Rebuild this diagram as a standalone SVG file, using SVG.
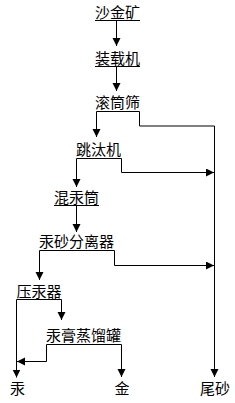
<svg xmlns="http://www.w3.org/2000/svg" width="235" height="403" viewBox="0 0 235 403">
<style>
text{font-family:"Noto Sans CJK SC","Noto Sans",sans-serif;font-size:15px;fill:#000;text-anchor:middle}
.c{fill:none;stroke:#000;stroke-width:1}
</style>
<defs>
<marker id="ah" markerUnits="userSpaceOnUse" markerWidth="10" markerHeight="10" refX="8" refY="4" orient="auto">
<path d="M0,0 L8,4 L0,8 Z" fill="#000"/>
</marker>
</defs>
<rect width="235" height="403" fill="#fff"/>
<g id="n1"><text x="117.5" y="18">沙金矿</text></g>
<g id="n2"><text x="117.5" y="64">装载机</text></g>
<g id="n3"><text x="117.5" y="108">滚筒筛</text></g>
<g id="n4"><text x="98.5" y="155">跳汰机</text></g>
<g id="n5"><text x="76.5" y="203">混汞筒</text></g>
<g id="n6"><text x="76.5" y="247">汞砂分离器</text></g>
<g id="n7"><text x="39" y="297">压汞器</text></g>
<g id="n8"><text x="83.5" y="341">汞膏蒸馏罐</text></g>
<g id="n9"><text x="17.5" y="394">汞</text></g>
<g id="n10"><text x="122" y="394">金</text></g>
<g id="n11"><text x="215" y="394">尾砂</text></g>
<g id="connectors">
<path class="c" d="M95,20.5 H140"/>
<path class="c" d="M116.5,20.5 V46" marker-end="url(#ah)"/>
<path class="c" d="M95,66.5 H140"/>
<path class="c" d="M116.5,66.5 V91" marker-end="url(#ah)"/>
<path class="c" d="M96.5,111.5 H139.5 V126 H214.5 V377" marker-end="url(#ah)"/>
<path class="c" d="M96.5,111.5 V137" marker-end="url(#ah)"/>
<path class="c" d="M76.5,158.5 H121.5 V172.5 H214" marker-end="url(#ah)"/>
<path class="c" d="M76.5,158.5 V187" marker-end="url(#ah)"/>
<path class="c" d="M54,205.5 H99"/>
<path class="c" d="M76.5,205.5 V232" marker-end="url(#ah)"/>
<path class="c" d="M39.5,250.5 H114.5 V265.5 H214" marker-end="url(#ah)"/>
<path class="c" d="M39.5,250.5 V280" marker-end="url(#ah)"/>
<path class="c" d="M16.5,299.5 H61.5"/>
<path class="c" d="M16.5,299.5 V377.5" marker-end="url(#ah)"/>
<path class="c" d="M61.5,299.5 V320" marker-end="url(#ah)"/>
<path class="c" d="M46.5,344.5 H121.5"/>
<path class="c" d="M46.5,344.5 V361.5 H17" marker-end="url(#ah)"/>
<path class="c" d="M121.5,344.5 V377" marker-end="url(#ah)"/>
</g>
</svg>
